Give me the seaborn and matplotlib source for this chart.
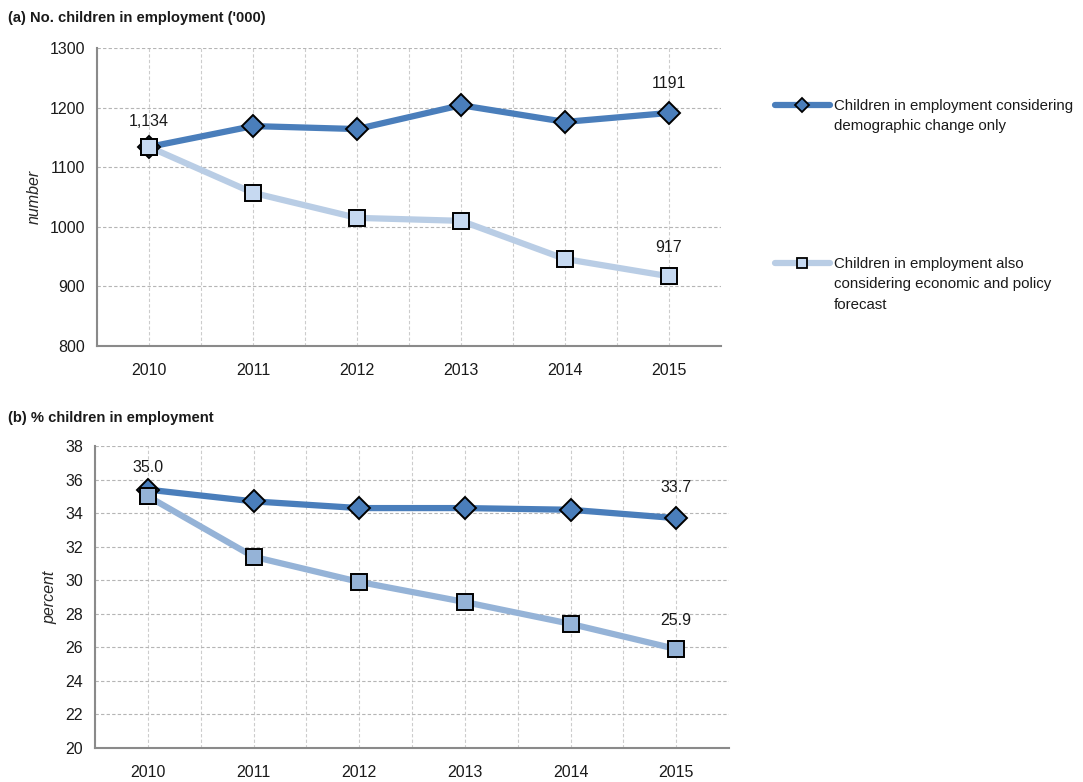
import matplotlib
matplotlib.use("Agg")
import matplotlib.pyplot as plt
from matplotlib.lines import Line2D
import seaborn as sns
import pandas as pd

years = [2010, 2011, 2012, 2013, 2014, 2015]

# Panel (a): number of children in employment ('000)
num_demographic = [1134, 1169, 1164, 1204, 1176, 1191]
num_forecast = [1134, 1057, 1015, 1010, 946, 917]

# Panel (b): percentage of children in employment
pct_demographic = [35.4, 34.7, 34.3, 34.3, 34.2, 33.7]
pct_forecast = [35.0, 31.4, 29.9, 28.7, 27.4, 25.9]

# Legend labels, one list item per printed line
legend_lines = [
    ["Children in employment considering", "demographic change only"],
    ["Children in employment also", "considering economic and policy",
     "forecast"],
]

dark_blue = "#4a7ebb"
light_blue_a = "#b9cde5"
light_fill_a = "#c6d9f1"
light_blue_b = "#95b3d7"
text_color = "#1a1a1a"
FS = 11.5        # tick labels, value labels, axis labels
LEG_FS = 10.8    # legend text

sns.set_theme(style="white")
plt.rcParams["font.family"] = ["Liberation Sans", "DejaVu Sans"]
plt.rcParams["font.size"] = FS

fig = plt.figure(figsize=(10.83, 7.82), dpi=100)
W, H = 1083, 782
ax1 = fig.add_axes([97 / W, 1 - 346 / H, (721 - 97) / W, (346 - 48) / H])
ax2 = fig.add_axes([95 / W, 1 - 748 / H, (729 - 95) / W, (748 - 446) / H])


def draw_series(ax, values, line_color, fill, marker, ms, z):
    df = pd.DataFrame({"year": years, "value": values})
    sns.lineplot(data=df, x="year", y="value", ax=ax, color=line_color,
                 linewidth=4.5, marker=marker, markersize=ms,
                 markerfacecolor=fill, markeredgecolor="black",
                 markeredgewidth=1.4, zorder=z, solid_capstyle="butt")


def style_axes(ax, ylim, yticks):
    ax.set_xlim(2009.5, 2015.5)
    ax.set_ylim(*ylim)
    ax.set_yticks(yticks)
    ax.set_xticks(years)
    ax.set_xticks([y + 0.5 for y in years[:-1]] + [2009.5], minor=True)
    ax.set_xticklabels([str(y) for y in years])
    ax.grid(True, which="both", axis="x", color="#cccccc",
            linestyle=(0, (3, 2)), linewidth=0.8)
    ax.grid(True, which="major", axis="y", color="#b5b5b5",
            linestyle=(0, (3, 2)), linewidth=0.8)
    ax.set_axisbelow(True)
    for side in ("top", "right"):
        ax.spines[side].set_visible(False)
    for side in ("left", "bottom"):
        ax.spines[side].set_color("#8a8a8a")
        ax.spines[side].set_linewidth(1.5)
    ax.tick_params(axis="both", which="major", direction="out", length=5,
                   width=1.2, color="#8a8a8a", labelsize=FS,
                   labelcolor=text_color)
    ax.tick_params(axis="x", which="minor", length=0)
    ax.tick_params(axis="x", pad=7)
    ax.set_xlabel("")


def label(ax, x, y, s):
    ax.text(x, y, s, ha="center", va="center", fontsize=FS, color=text_color)


# Panel (a)
draw_series(ax1, num_forecast, light_blue_a, light_fill_a, "s", 11, 3)
draw_series(ax1, num_demographic, dark_blue, dark_blue, "D", 11.5, 4)
# Repaint the first forecast marker on top, where both series meet
ax1.plot([years[0]], [num_forecast[0]], marker="s", markersize=11,
         markerfacecolor=light_fill_a, markeredgecolor="black",
         markeredgewidth=1.4, linestyle="none", zorder=5)
style_axes(ax1, (800, 1300), range(800, 1301, 100))
ax1.set_ylabel("number", style="italic", fontsize=FS, labelpad=6)

label(ax1, years[0], 1176, f"{num_demographic[0]:,}")
label(ax1, years[-1], 1240, f"{num_demographic[-1]}")
label(ax1, years[-1], 965, f"{num_forecast[-1]}")

# Panel (b)
draw_series(ax2, pct_forecast, light_blue_b, light_blue_b, "s", 11, 3)
draw_series(ax2, pct_demographic, dark_blue, dark_blue, "D", 11.5, 4)
ax2.plot([years[0]], [pct_forecast[0]], marker="s", markersize=11,
         markerfacecolor=light_blue_b, markeredgecolor="black",
         markeredgewidth=1.4, linestyle="none", zorder=5)
style_axes(ax2, (20, 38), range(20, 39, 2))
ax2.set_ylabel("percent", style="italic", fontsize=FS, labelpad=6)

label(ax2, years[0], 36.7, f"{pct_forecast[0]:.1f}")
label(ax2, years[-1], 35.5, f"{pct_demographic[-1]:.1f}")
label(ax2, years[-1], 27.6, f"{pct_forecast[-1]:.1f}")

# Panel titles
fig.text(8 / W, 1 - 18 / H, "(a) No. children in employment ('000)",
         fontsize=10.6, fontweight="bold", va="center", ha="left",
         color=text_color)
fig.text(8 / W, 1 - 418 / H, "(b) % children in employment",
         fontsize=10.6, fontweight="bold", va="center", ha="left",
         color=text_color)

# Legend for panel (a): the handle sits on the first line of each label,
# continuation lines get an empty handle
handles = [
    Line2D([], [], color=dark_blue, linewidth=4.5, marker="D", markersize=7,
           markerfacecolor=dark_blue, markeredgecolor="black",
           markeredgewidth=1.3),
    Line2D([], [], color=light_blue_a, linewidth=4.5, marker="s",
           markersize=7, markerfacecolor=light_fill_a,
           markeredgecolor="black", markeredgewidth=1.3),
]
for handle, lines, top in zip(handles, legend_lines, (99, 257)):
    blank = [Line2D([], [], linestyle="none")] * (len(lines) - 1)
    leg = fig.legend([handle] + blank, lines, loc="upper left",
                     bbox_to_anchor=(775 / W, 1 - top / H), frameon=False,
                     fontsize=LEG_FS, handlelength=3.65, handletextpad=0.25,
                     borderaxespad=0, borderpad=0, labelspacing=0.42,
                     labelcolor=text_color)

fig.savefig("out.png", dpi=100)
